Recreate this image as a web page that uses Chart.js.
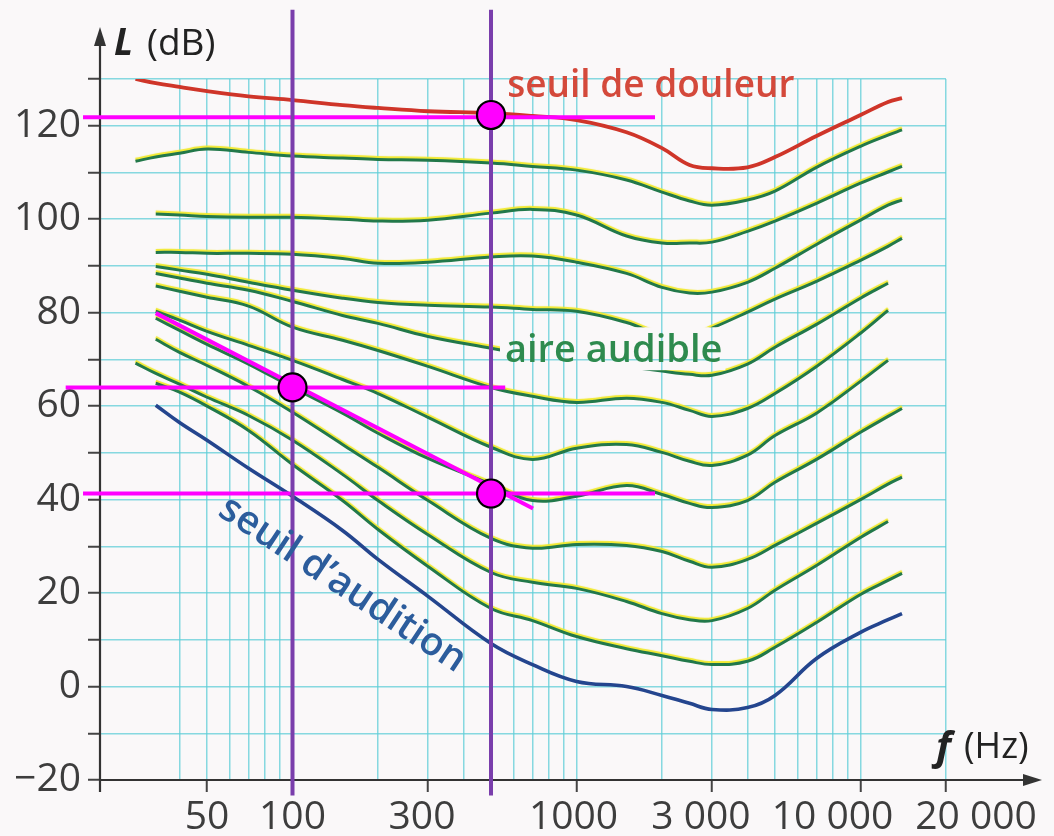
<!DOCTYPE html>
<html>
<head>
<meta charset="utf-8">
<script src="https://cdn.jsdelivr.net/npm/chart.js@4.4.1/dist/chart.umd.min.js"></script>
<style>
  html, body { margin: 0; padding: 0; background: #faf8f9; }
  #wrap { width: 1054px; height: 836px; position: relative; }
</style>
</head>
<body>
<div id="wrap"><canvas id="chart_isophones"></canvas></div>
<script>
// frequencies (Hz) where the curves were read
var freqs = [28, 33, 40, 50, 70, 100, 150, 200, 300, 500, 700, 1000, 1500, 2000, 2500, 3000, 4000, 5000, 7000, 10000, 12500, 14000];

// sound level L (dB) of each curve at those frequencies
var seuilDouleur = [130.0, 129.1, 128.3, 127.4, 126.3, 125.5, 124.4, 123.8, 123.1, 122.7, 122.1, 121.2, 118.6, 115.2, 111.6, 110.9, 111.1, 113.3, 117.8, 122.3, 125.1, 125.9];
var phon110 = [112.4, 113.3, 114.1, 115.0, 114.3, 113.5, 113.1, 112.8, 112.6, 112.0, 111.3, 110.5, 108.4, 105.8, 103.9, 103.0, 104.1, 106.0, 111.1, 115.6, 118.0, 119.1];
var phon100 = [null, 101.1, 100.9, 100.6, 100.4, 100.4, 100.0, 99.6, 99.8, 101.3, 102.1, 100.9, 96.4, 94.9, 94.9, 95.1, 97.4, 99.6, 103.4, 107.7, 110.1, 111.3];
var phon90 = [null, 92.9, 92.9, 92.7, 92.7, 92.5, 91.6, 90.6, 90.8, 91.9, 92.1, 90.8, 88.4, 85.4, 84.2, 84.4, 86.5, 89.5, 94.6, 99.8, 103.0, 104.1];
var phon80 = [null, 89.9, 89.1, 88.2, 86.5, 84.8, 83.1, 82.2, 81.6, 81.2, 80.7, 80.3, 77.9, 75.2, 74.9, 76.7, 80.1, 82.9, 86.7, 91.2, 94.2, 95.9];
var phon70 = [null, 88.4, 87.4, 86.3, 84.8, 82.4, 79.4, 77.7, 74.9, 72.4, 70.9, 69.8, 68.5, 67.5, 66.8, 66.6, 69.0, 72.6, 77.5, 83.1, 86.3, null];
var phon60 = [null, 85.7, 84.6, 83.3, 81.4, 76.9, 74.1, 71.9, 68.5, 64.0, 62.1, 60.8, 61.7, 60.8, 59.1, 57.8, 59.5, 62.7, 68.5, 75.6, 80.5, null];
var phon50 = [null, 80.3, 78.4, 76.0, 73.0, 69.8, 65.7, 62.7, 57.6, 51.2, 48.6, 51.0, 51.8, 50.1, 48.2, 47.3, 49.5, 53.7, 58.5, 65.3, 69.8, null];
var phon40 = [null, 78.8, 76.2, 73.2, 69.0, 64.0, 58.5, 54.2, 48.8, 43.3, 39.8, 40.7, 43.0, 41.1, 39.2, 38.3, 39.8, 43.7, 48.6, 54.4, 57.8, 59.5];
var phon30 = [null, 74.3, 71.5, 68.7, 64.2, 58.7, 51.8, 46.9, 39.8, 31.7, 29.6, 30.4, 30.2, 28.9, 26.8, 25.5, 27.2, 30.2, 34.9, 40.0, 43.3, 44.8];
var phon20 = [69.2, 67.0, 64.7, 61.9, 58.0, 52.7, 45.4, 39.8, 32.5, 24.4, 22.3, 21.0, 18.2, 15.6, 14.3, 14.1, 16.7, 20.6, 25.9, 31.9, 35.3, null];
var phon10 = [null, 64.9, 63.0, 60.0, 54.8, 47.5, 39.8, 33.6, 25.7, 16.7, 14.1, 10.7, 8.1, 6.6, 5.4, 4.7, 5.4, 8.4, 13.7, 19.7, 22.7, 24.2];
var seuilAudition = [null, 60.2, 56.5, 52.7, 46.7, 40.7, 33.4, 27.2, 19.3, 9.2, 4.7, 1.1, 0.0, -1.9, -3.6, -4.9, -4.5, -1.9, 6.0, 11.6, 14.3, 15.6];

var greenCurves = [phon110, phon100, phon90, phon80, phon70, phon60, phon50, phon40, phon30, phon20, phon10];

// reading marks drawn over the graph
var pointFreq = [100, 500, 500];
var pointLevel = [64.0, 41.3, 122.3];
var hLineLevel = [121.8, 64.0, 41.3];
var hLineFrom = [18.3, 15.9, 18.3];
var hLineTo = [1890, 561, 1890];
var tangentFreq = [33, 703];
var tangentLevel = [79.9, 38.1];
var vLineFreq = [100, 500];
var vLineRange = [-23.3, 144.8];

// axes
var gridFreqs = [40, 50, 60, 70, 80, 90, 100, 200, 300, 400, 500, 600, 700, 800, 900, 1000,
  2000, 3000, 4000, 5000, 6000, 7000, 8000, 9000, 10000, 20000];
var xTickValues = [50, 100, 300, 1000, 3000, 10000, 20000];
var xTickText = ['50', '100', '300', '1000', '3 000', '10 000', '20 000'];

function pts(xs, ys) {
  return xs.map(function (x, i) { return { x: x, y: ys[i] }; });
}

var datasets = [];
datasets.push({
  data: pts(pointFreq, pointLevel), showLine: false, clip: false,
  pointRadius: 14, pointBackgroundColor: '#ff00ff', pointBorderColor: '#000', pointBorderWidth: 2.2
});
vLineFreq.forEach(function (f) {
  datasets.push({ data: pts([f, f], vLineRange), borderColor: '#7a3eac', borderWidth: 4, clip: false, pointRadius: 0 });
});
hLineLevel.forEach(function (L, i) {
  datasets.push({ data: pts([hLineFrom[i], hLineTo[i]], [L, L]), borderColor: '#ff00ff', borderWidth: 4, clip: false, pointRadius: 0 });
});
datasets.push({ data: pts(tangentFreq, tangentLevel), borderColor: '#ff00ff', borderWidth: 4, clip: false, pointRadius: 0 });
datasets.push({ data: pts(freqs, seuilDouleur), borderColor: '#cf3529', borderWidth: 3.8, pointRadius: 0, tension: 0.4 });
datasets.push({ data: pts(freqs, seuilAudition), borderColor: '#24458e', borderWidth: 3.6, pointRadius: 0, tension: 0.4 });
greenCurves.forEach(function (c) {
  datasets.push({ data: pts(freqs, c), borderColor: '#22784a', borderWidth: 3, pointRadius: 0, tension: 0.4, glow: true });
});

function audibleBox(chart) {
  var ctx = chart.ctx;
  var x = chart.scales.x.getPixelForValue(560);
  var base = chart.scales.y.getPixelForValue(69.4);
  ctx.save();
  ctx.font = '600 38px "Open Sans"';
  var w = ctx.measureText('aire audible').width;
  ctx.restore();
  return { x: x - 5, y: base - 35, w: w + 8, h: 43, tx: x, ty: base };
}

var chart_isophones = new Chart(document.getElementById('chart_isophones'), {
  type: 'line',
  data: { datasets: datasets },
  options: {
    animation: false,
    responsive: true,
    maintainAspectRatio: false,
    layout: { padding: { top: 79, right: 108, left: 0, bottom: 0 } },
    plugins: { legend: { display: false }, tooltip: { enabled: false } },
    scales: {
      x: {
        type: 'logarithmic',
        min: 21,
        max: 20000,
        afterBuildTicks: function (scale) {
          scale.ticks = gridFreqs.map(function (v) { return { value: v }; });
        },
        afterFit: function (scale) { scale.height = 56; },
        border: { display: false },
        grid: {
          color: 'rgba(95, 205, 215, 0.75)',
          lineWidth: 1.5,
          tickLength: 12,
          tickWidth: 2,
          tickColor: function (ctx) {
            return ctx.tick && xTickValues.indexOf(ctx.tick.value) >= 0 ? '#444' : 'rgba(0,0,0,0)';
          }
        },
        ticks: { display: false, autoSkip: false }
      },
      y: {
        type: 'linear',
        min: -20,
        max: 130,
        afterFit: function (scale) { scale.width = 100; },
        border: { display: false },
        grid: {
          color: 'rgba(95, 205, 215, 0.75)',
          lineWidth: 1.5,
          tickLength: 12,
          tickWidth: 2,
          tickColor: '#444'
        },
        ticks: {
          stepSize: 10,
          autoSkip: false,
          padding: 7,
          color: '#3d3d3d',
          font: { family: 'Open Sans', size: 39, lineHeight: 1 },
          callback: function (v) {
            if (v % 20 !== 0) return '';
            return v < 0 ? '\u2212' + Math.abs(v) : String(v);
          }
        }
      }
    }
  },
  plugins: [{
    id: 'paper',
    beforeDraw: function (chart) {
      var ctx = chart.ctx;
      ctx.save();
      ctx.fillStyle = '#faf8f9';
      ctx.fillRect(0, 0, chart.width, chart.height);
      ctx.restore();
    }
  }, {
    id: 'curveStyle',
    beforeDatasetDraw: function (chart, args) {
      var ds = chart.data.datasets[args.index];
      if (!ds.glow) return;
      var ctx = chart.ctx;
      var box = audibleBox(chart);
      ctx.save();
      ctx.beginPath();
      ctx.rect(0, 0, chart.width, chart.height);
      ctx.rect(box.x, box.y, box.w, box.h);
      ctx.clip('evenodd');
      ctx.shadowColor = 'rgba(240, 232, 40, 0.95)';
      ctx.shadowOffsetX = 0;
      ctx.shadowOffsetY = -2;
      ctx.shadowBlur = 0.8;
    },
    afterDatasetDraw: function (chart, args) {
      if (chart.data.datasets[args.index].glow) chart.ctx.restore();
    }
  }, {
    id: 'arrowAxes',
    beforeDatasetsDraw: function (chart) {
      var ctx = chart.ctx;
      var a = chart.chartArea;
      ctx.save();
      ctx.strokeStyle = '#333';
      ctx.fillStyle = '#333';
      ctx.lineWidth = 2.2;
      ctx.beginPath();
      ctx.moveTo(a.left, a.bottom + 12);
      ctx.lineTo(a.left, a.top - 38);
      ctx.moveTo(a.left, a.bottom);
      ctx.lineTo(a.right + 82, a.bottom);
      ctx.stroke();
      ctx.beginPath();
      ctx.moveTo(a.left, a.top - 52);
      ctx.lineTo(a.left - 6, a.top - 33);
      ctx.lineTo(a.left + 6, a.top - 33);
      ctx.closePath();
      ctx.fill();
      ctx.beginPath();
      ctx.moveTo(a.right + 96, a.bottom);
      ctx.lineTo(a.right + 77, a.bottom - 6);
      ctx.lineTo(a.right + 77, a.bottom + 6);
      ctx.closePath();
      ctx.fill();
      ctx.restore();
    }
  }, {
    id: 'texts',
    afterDatasetsDraw: function (chart) {
      var ctx = chart.ctx;
      var xs = chart.scales.x, ys = chart.scales.y;
      var a = chart.chartArea;
      var shift = [0, 0, -6, -3, -11, -28, 30];
      ctx.save();
      ctx.font = '39px "Open Sans"';
      ctx.fillStyle = '#3d3d3d';
      ctx.textAlign = 'center';
      ctx.textBaseline = 'middle';
      xTickValues.forEach(function (v, i) {
        ctx.fillText(xTickText[i], xs.getPixelForValue(v) + shift[i], a.bottom + 38);
      });

      // axis names
      ctx.textAlign = 'left';
      ctx.textBaseline = 'alphabetic';
      ctx.fillStyle = '#222';
      ctx.font = 'italic bold 37px "Open Sans"';
      ctx.fillText('L', a.left + 14, a.top - 24);
      ctx.font = '37px "Open Sans"';
      ctx.fillText('(dB)', a.left + 47, a.top - 24);
      ctx.font = 'italic bold 40px "Open Sans"';
      ctx.fillText('f', a.right - 10, a.bottom - 20);
      ctx.font = '36px "Open Sans"';
      ctx.fillText('(Hz)', a.right + 18, a.bottom - 22);

      // curve names
      ctx.font = '600 37px "Open Sans"';
      ctx.fillStyle = '#d4493b';
      ctx.fillText('seuil de douleur', xs.getPixelForValue(570), ys.getPixelForValue(126.1));

      var box = audibleBox(chart);
      ctx.font = '600 38px "Open Sans"';
      ctx.fillStyle = '#2e8a4e';
      ctx.fillText('aire audible', box.tx, box.ty);

      ctx.save();
      ctx.translate(xs.getPixelForValue(150), ys.getPixelForValue(21.8));
      ctx.rotate(33.5 * Math.PI / 180);
      ctx.font = '600 39px "Open Sans"';
      ctx.fillStyle = '#2c5c9c';
      ctx.textAlign = 'center';
      ctx.textBaseline = 'middle';
      ctx.fillText('seuil d\u2019audition', 0, 0);
      ctx.restore();

      ctx.restore();
    }
  }]
});
</script>
</body>
</html>
